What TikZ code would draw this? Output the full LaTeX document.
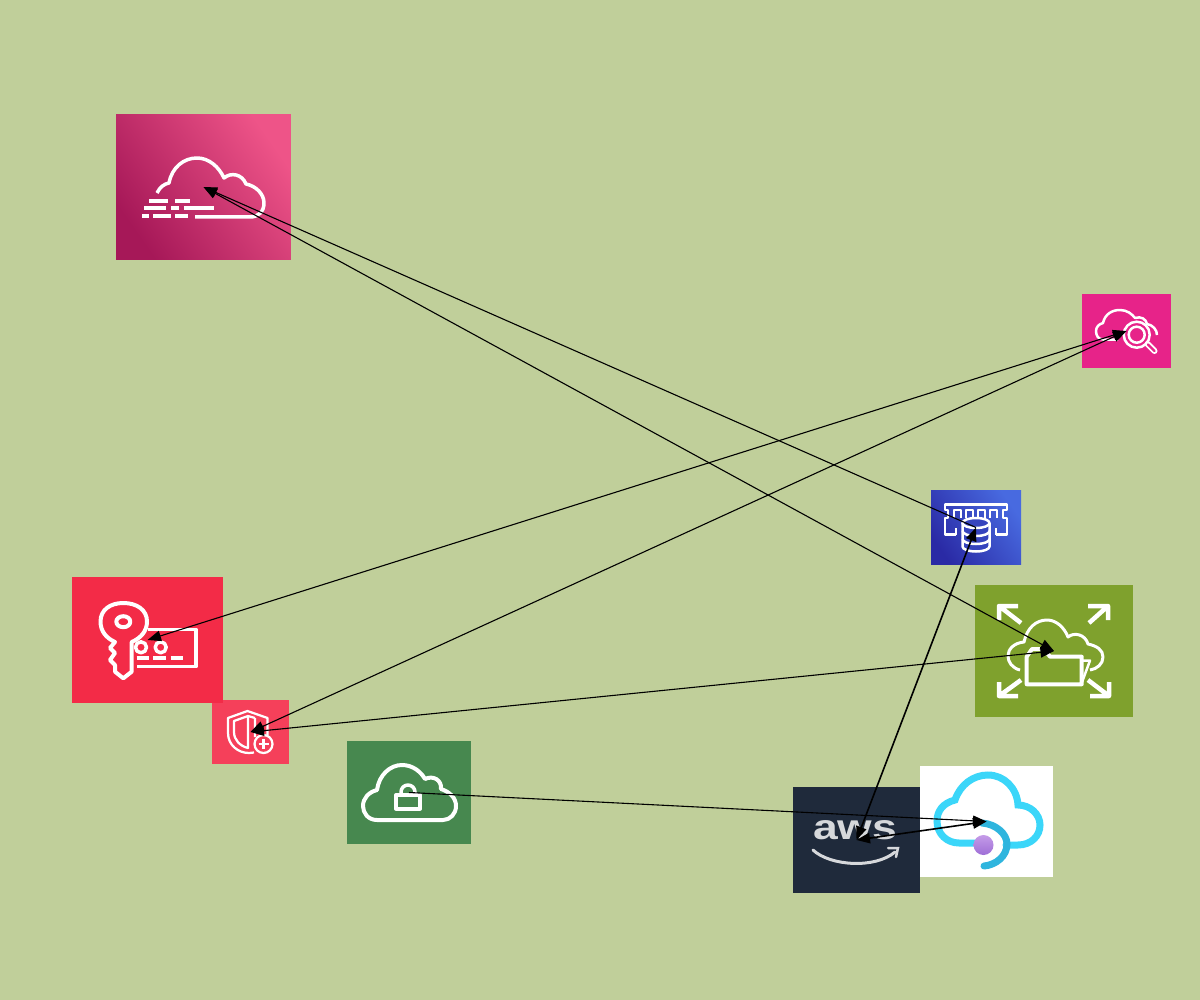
\documentclass[tikz,border=0pt]{standalone}
\usepackage{fontspec}
\usepackage{graphicx}
\setsansfont{Liberation Sans}
\usetikzlibrary{arrows.meta}
\definecolor{bgcolor}{RGB}{192,207,154}
\definecolor{gwdark}{RGB}{166,24,88}
\definecolor{gwlight}{RGB}{238,84,136}
\definecolor{searchcolor}{RGB}{231,35,137}
\definecolor{memdark}{RGB}{42,42,165}
\definecolor{memlight}{RGB}{72,106,224}
\definecolor{efscolor}{RGB}{127,161,45}
\definecolor{keycolor}{RGB}{243,43,71}
\definecolor{shieldcolor}{RGB}{245,64,90}
\definecolor{lockcolor}{RGB}{71,136,79}
\definecolor{awscolor}{RGB}{31,42,59}
\definecolor{awstext}{RGB}{214,216,219}
\definecolor{azurecyan}{RGB}{59,214,249}
\definecolor{azureblue}{RGB}{47,181,222}
\definecolor{dottop}{RGB}{197,155,232}
\definecolor{dotbottom}{RGB}{158,110,214}
\tikzset{
  icon box/.style={inner sep=0pt,outer sep=0pt,minimum width=#1},
  icon line/.style={draw=white,fill=none,line width=0.07cm,line join=round},
  arrow line/.style={draw=black,line width=0.022cm,>={Stealth[length=0.27cm,width=0.21cm,inset=0pt]}},
  double line/.style={arrow line,line width=0.032cm}
}
\begin{document}
\begin{tikzpicture}[x=0.02cm,y=-0.02cm]
    \useasboundingbox (0,0) rectangle (1200,1000);
    \fill[bgcolor] (0,0) rectangle (1200,1000);

    \node[icon box=3.5cm,minimum height=2.92cm,shading=axis,left color=gwdark,right color=gwlight,shading angle=125] (gateway) at (203.5,187) {};
    \node[icon box=1.78cm,minimum height=1.48cm,fill=searchcolor] (search) at (1126.5,331) {};
    \node[icon box=1.8cm,minimum height=1.5cm,shading=axis,left color=memdark,right color=memlight,shading angle=125] (memory) at (976,527.5) {};
    \node[icon box=3.16cm,minimum height=2.64cm,fill=efscolor] (folder) at (1054,651) {};
    \node[icon box=1.54cm,minimum height=1.28cm,fill=shieldcolor] (shield) at (250.5,732) {};
    \node[icon box=3.02cm,minimum height=2.52cm,fill=keycolor] (key) at (147.5,640) {};
    \node[icon box=2.48cm,minimum height=2.06cm,fill=lockcolor] (lock) at (409,792.5) {};
    \node[icon box=2.54cm,minimum height=2.12cm,fill=awscolor] (aws) at (856.5,840) {};
    \node[icon box=2.66cm,minimum height=2.22cm,fill=white] (azure) at (986.5,821.5) {};

    % gateway
    \draw[icon line] (157,193) .. controls (160,187) and (164,184) .. (169,183)
        .. controls (172,167) and (184,158) .. (197,158) .. controls (209,158) and (219,167) .. (224,178)
        .. controls (231,172) and (242,174) .. (246,184) .. controls (256,186) and (264,194) .. (264,203)
        .. controls (264,212) and (258,217) .. (250,217) -- (195,217);
    \draw[icon line,line width=0.08cm] (149,201.5) -- (168,201.5) (175,201.5) -- (190,201.5)
        (144,208.5) -- (166,208.5) (171,208.5) -- (179,208.5) (184,208.5) -- (214,208.5)
        (142,216) -- (149,216) (153,216) -- (171,216) (175,216) -- (188,216);

    % search
    \draw[icon line,line width=0.05cm] (1118,339.5) -- (1103,339.5) .. controls (1098,339.5) and (1096,335) .. (1096,331)
        .. controls (1096,327) and (1099,324) .. (1103,323) .. controls (1105,314) and (1112,310) .. (1120,310)
        .. controls (1127,310) and (1132,314) .. (1135,318) .. controls (1141,316) and (1146,319) .. (1147,324)
        .. controls (1153,325) and (1157,330) .. (1157,335);
    \fill[searchcolor] (1136.7,334.7) circle (13);
    \draw[icon line,line width=0.05cm] (1136.7,334.7) circle (13) (1136.7,334.7) circle (8);
    \draw[white,line width=0.12cm,line cap=round] (1147.5,344) -- (1154.5,351);
    \draw[searchcolor,line width=0.045cm,line cap=round] (1148,344.5) -- (1154.5,351);

    % memory
    \draw[icon line,line width=0.05cm] (956,534.5) -- (945,534.5) -- (945,518) -- (948,518) -- (948,510) -- (945,510)
        -- (945,504.5) -- (1007,504.5) -- (1007,510) -- (1003,510) -- (1003,518) -- (1007,518) -- (1007,534.5) -- (996,534.5);
    \draw[icon line,line width=0.05cm] (956,534.5) -- (956,528) (996,534.5) -- (996,528);
    \foreach \pinx in {954,966,978,990}
        \draw[icon line,line width=0.04cm] (\pinx,518) -- (\pinx,509.5) -- (\pinx+7,509.5) -- (\pinx+7,518);
    \fill[memdark!60!memlight] (962.5,523) -- (962.5,546.5) arc (180:0:13.5 and 5) -- (989.5,523) arc (0:-180:13.5 and 5) -- cycle;
    \draw[icon line,line width=0.05cm] (976,523) ellipse (13.5 and 5);
    \draw[icon line,line width=0.05cm] (962.5,523) -- (962.5,546.5) arc (180:0:13.5 and 5) -- (989.5,523);
    \draw[icon line,line width=0.05cm] (962.5,531) arc (180:0:13.5 and 5) (962.5,539) arc (180:0:13.5 and 5);

    % folder
    \draw[icon line,line width=0.09cm] (1021,623) -- (999,606) (1018,606) -- (999,606) -- (999,620)
        (1089,623) -- (1108,606) (1088,606) -- (1108,606) -- (1108,620)
        (1021,680) -- (999,696) (1018,696) -- (999,696) -- (999,682)
        (1088,680) -- (1109,696) (1090,696) -- (1109,696) -- (1109,682);
    \draw[icon line,line width=0.06cm] (1020,670) .. controls (1012,668) and (1008,662) .. (1008,656) .. controls (1008,649) and (1014,643) .. (1024,642)
        .. controls (1027,628) and (1036,620) .. (1047,620) .. controls (1056,620) and (1064,627) .. (1068,637)
        .. controls (1074,632) and (1085,634) .. (1088,644) .. controls (1097,646) and (1103,650) .. (1103,657)
        .. controls (1103,664) and (1097,669) .. (1090,670);
    \draw[icon line,line width=0.08cm,fill=efscolor] (1026.7,656.7) -- (1026.7,684.3) -- (1081.7,684.3) -- (1081.7,656.7) -- (1050,656.7) -- (1044,649) -- (1032,649) -- cycle;
    \draw[icon line,line width=0.05cm] (1082,660.5) -- (1090,660.5) -- (1081.7,683);

    % shield
    \draw[icon line,line width=0.045cm] (267.5,735) -- (267.5,718) -- (247.5,711) -- (228,718) -- (228,733)
        .. controls (228,745) and (238,753) .. (249,753) -- (254,752.5);
    \draw[icon line,line width=0.045cm] (234,721) -- (248,716) -- (248,748) .. controls (240,746) and (234,740) .. (234,732) -- cycle;
    \draw[icon line,line width=0.045cm] (248,716) -- (255,718) (255,718) -- (255,737);
    \draw[icon line,line width=0.045cm,fill=shieldcolor] (263.5,744) circle (9);
    \draw[icon line,line width=0.045cm] (258.5,744) -- (268.5,744) (263.5,739) -- (263.5,749);

    % key
    \draw[icon line,line width=0.08cm] (115,642) .. controls (106,638) and (100.5,631) .. (100.5,621.5)
        .. controls (100.5,610) and (110,603) .. (123.3,603) .. controls (137,603) and (147,610) .. (147,621.5)
        .. controls (147,631) and (141,638) .. (131.7,642) -- (131.7,671.7) -- (123.3,678.3) -- (115,671.7)
        -- (115,665) -- (110,660) -- (115,653) -- (110,648) -- cycle;
    \draw[icon line,line width=0.08cm] (123.3,621.7) ellipse (7 and 5.5);
    \draw[icon line,line width=0.07cm] (148.3,629.3) -- (196,629.3) -- (196,666.7) -- (136.7,666.7);
    \draw[icon line,line width=0.07cm] (141,647.3) circle (5.5) (160.7,647.3) circle (5.5);
    \draw[icon line,line width=0.07cm] (136.7,658) -- (149.3,658) (153.3,658) -- (166,658) (170.7,658) -- (183.3,658);

    % lock
    \draw[icon line,line width=0.08cm] (377,820) .. controls (368,820) and (363,813) .. (363,806) .. controls (363,798) and (369,792) .. (377,790)
        .. controls (379,775) and (390,765) .. (402,765) .. controls (413,765) and (421,772) .. (425,779)
        .. controls (433,775) and (442,780) .. (441,789) .. controls (450,792) and (456,798) .. (456,806)
        .. controls (456,814) and (450,820) .. (443,820) -- cycle;
    \draw[icon line,line width=0.08cm] (396,795) rectangle (420,808.5);
    \draw[icon line,line width=0.07cm] (401,795) -- (401,792) arc (180:360:7) -- (415,795);

    % aws
    \node[inner sep=0pt,text=awstext] (awslabel) at (855,830) {\resizebox{1.68cm}{0.38cm}{\sffamily\bfseries aws}};
    \draw[awstext,line width=0.06cm,line cap=round] (813,850) .. controls (830,866) and (875,869) .. (895,852);
    \draw[awstext,line width=0.05cm,line cap=round] (888,848) -- (898,848) -- (896,857);

    % azure
    \draw[azurecyan,line width=0.14cm,line cap=round] (1006,845) -- (1018,845) .. controls (1031,845) and (1040,836) .. (1040,825)
        .. controls (1040,814) and (1030,805) .. (1018,805) .. controls (1017,788) and (1004,775) .. (988,775)
        .. controls (973,775) and (960,785) .. (955,800) .. controls (943,803) and (937,811) .. (937,821)
        .. controls (937,834) and (947,843) .. (959,843) -- (976,843);
    \draw[azureblue,line width=0.14cm,line cap=round] (982,823) .. controls (996,824) and (1007,834) .. (1007,844) .. controls (1007,856) and (996,865) .. (984,866);
    \shade[top color=dottop,bottom color=dotbottom] (983.5,845) circle (10);

    \path[every edge/.append style={arrow line,->}]
        (memory.center) edge (gateway.center)
        (lock.center) edge (azure.center);
    \path[every edge/.append style={arrow line,<->}]
        (gateway.center) edge (folder.center)
        (search.center) edge (key.center)
        (search.center) edge (shield.center)
        (folder.center) edge (shield.center);
    \path[every edge/.append style={double line,<->}]
        (aws.center) edge (memory.center)
        (aws.center) edge (azure.center);
\end{tikzpicture}
\end{document}
